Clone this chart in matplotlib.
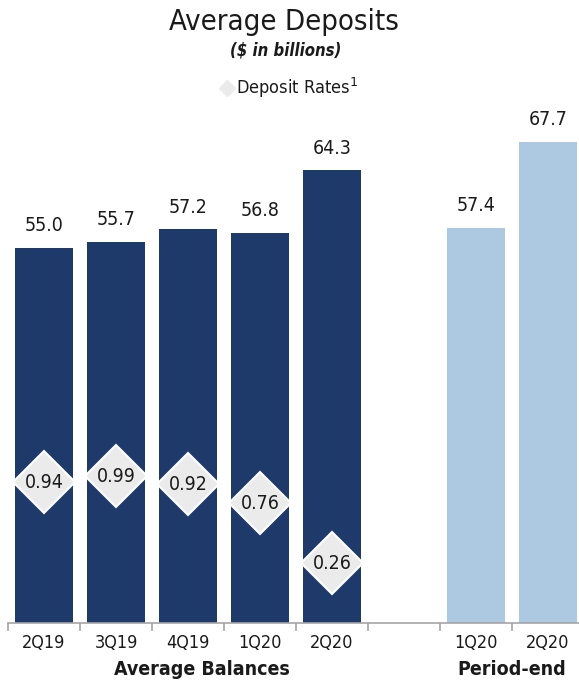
import matplotlib.pyplot as plt
import numpy as np

# average balances and period-end balances ($ in billions)
avg_quarters = ['2Q19', '3Q19', '4Q19', '1Q20', '2Q20']
avg_balances = [55.0, 55.7, 57.2, 56.8, 64.3]
deposit_rates = [0.94, 0.99, 0.92, 0.76, 0.26]
end_quarters = ['1Q20', '2Q20']
end_balances = [57.4, 67.7]

navy = '#1d3a6b'
light_blue = '#adc8e1'
diamond_gray = '#ebebeb'
ink = '#1a1a1a'
cond = dict(family='DejaVu Sans', stretch='condensed')

fig = plt.figure(figsize=(5.79, 6.81), dpi=100)
ax = fig.add_axes([8 / 579, 58 / 681, 576 / 579, 523 / 681])

x_avg = np.arange(len(avg_quarters))
x_end = np.arange(len(end_quarters)) + len(avg_quarters) + 1

ax.bar(x_avg, avg_balances, width=0.8, color=navy)
ax.bar(x_end, end_balances, width=0.8, color=light_blue)

for x, v in zip(list(x_avg) + list(x_end), avg_balances + end_balances):
    ax.text(x, v + 1.5, f'{v:.1f}', ha='center', va='bottom',
            fontsize=14, color=ink, **cond)

ax.set_ylim(10.1, 72.7)
ax.set_xlim(-0.5, 7.5)
ax.set_yticks([])
for s in ['top', 'left', 'right']:
    ax.spines[s].set_visible(False)
ax.spines['bottom'].set_color('#a6a6a6')
ax.spines['bottom'].set_linewidth(1.2)

ax.set_xticks(list(x_avg) + list(x_end))
ax.set_xticklabels(avg_quarters + end_quarters, fontsize=13, color=ink, **cond)
ax.tick_params(axis='x', which='major', length=0, pad=8)
ax.set_xticks(np.arange(-0.5, 8, 1), minor=True)
ax.tick_params(axis='x', which='minor', length=6, color='#a6a6a6', width=1.2)

# deposit rates on their own scale
ax2 = ax.twinx()
ax2.set_ylim(-0.244, 4.15)
ax2.axis('off')
ax2.plot(x_avg, deposit_rates, linestyle='none', marker='D', markersize=32,
         markerfacecolor=diamond_gray, markeredgecolor='white', markeredgewidth=1.5)
for x, r in zip(x_avg, deposit_rates):
    ax2.text(x, r, f'{r:.2f}', ha='center', va='center', fontsize=14,
             color=ink, **cond)

ax.text(2.2, -0.07, 'Average Balances', transform=ax.get_xaxis_transform(),
        ha='center', va='top', fontsize=14, fontweight='bold', color=ink, **cond)
ax.text(6.5, -0.07, 'Period-end', transform=ax.get_xaxis_transform(),
        ha='center', va='top', fontsize=14, fontweight='bold', color=ink, **cond)

fig.text(284 / 579, 1 - 22 / 681, 'Average Deposits', ha='center', va='center',
         fontsize=21, color=ink, **cond)
fig.text(286 / 579, 1 - 50 / 681, '($ in billions)', ha='center', va='center',
         fontsize=12, fontweight='bold', fontstyle='italic', color=ink, **cond)
fig.lines.append(plt.Line2D([227 / 579], [1 - 88 / 681], transform=fig.transFigure,
                            marker='D', markersize=8, color=diamond_gray,
                            linestyle='none'))
fig.text(236 / 579, 1 - 88 / 681, 'Deposit Rates$^1$', ha='left', va='center',
         fontsize=13, color=ink, **cond)

fig.savefig('out.png', dpi=100)
